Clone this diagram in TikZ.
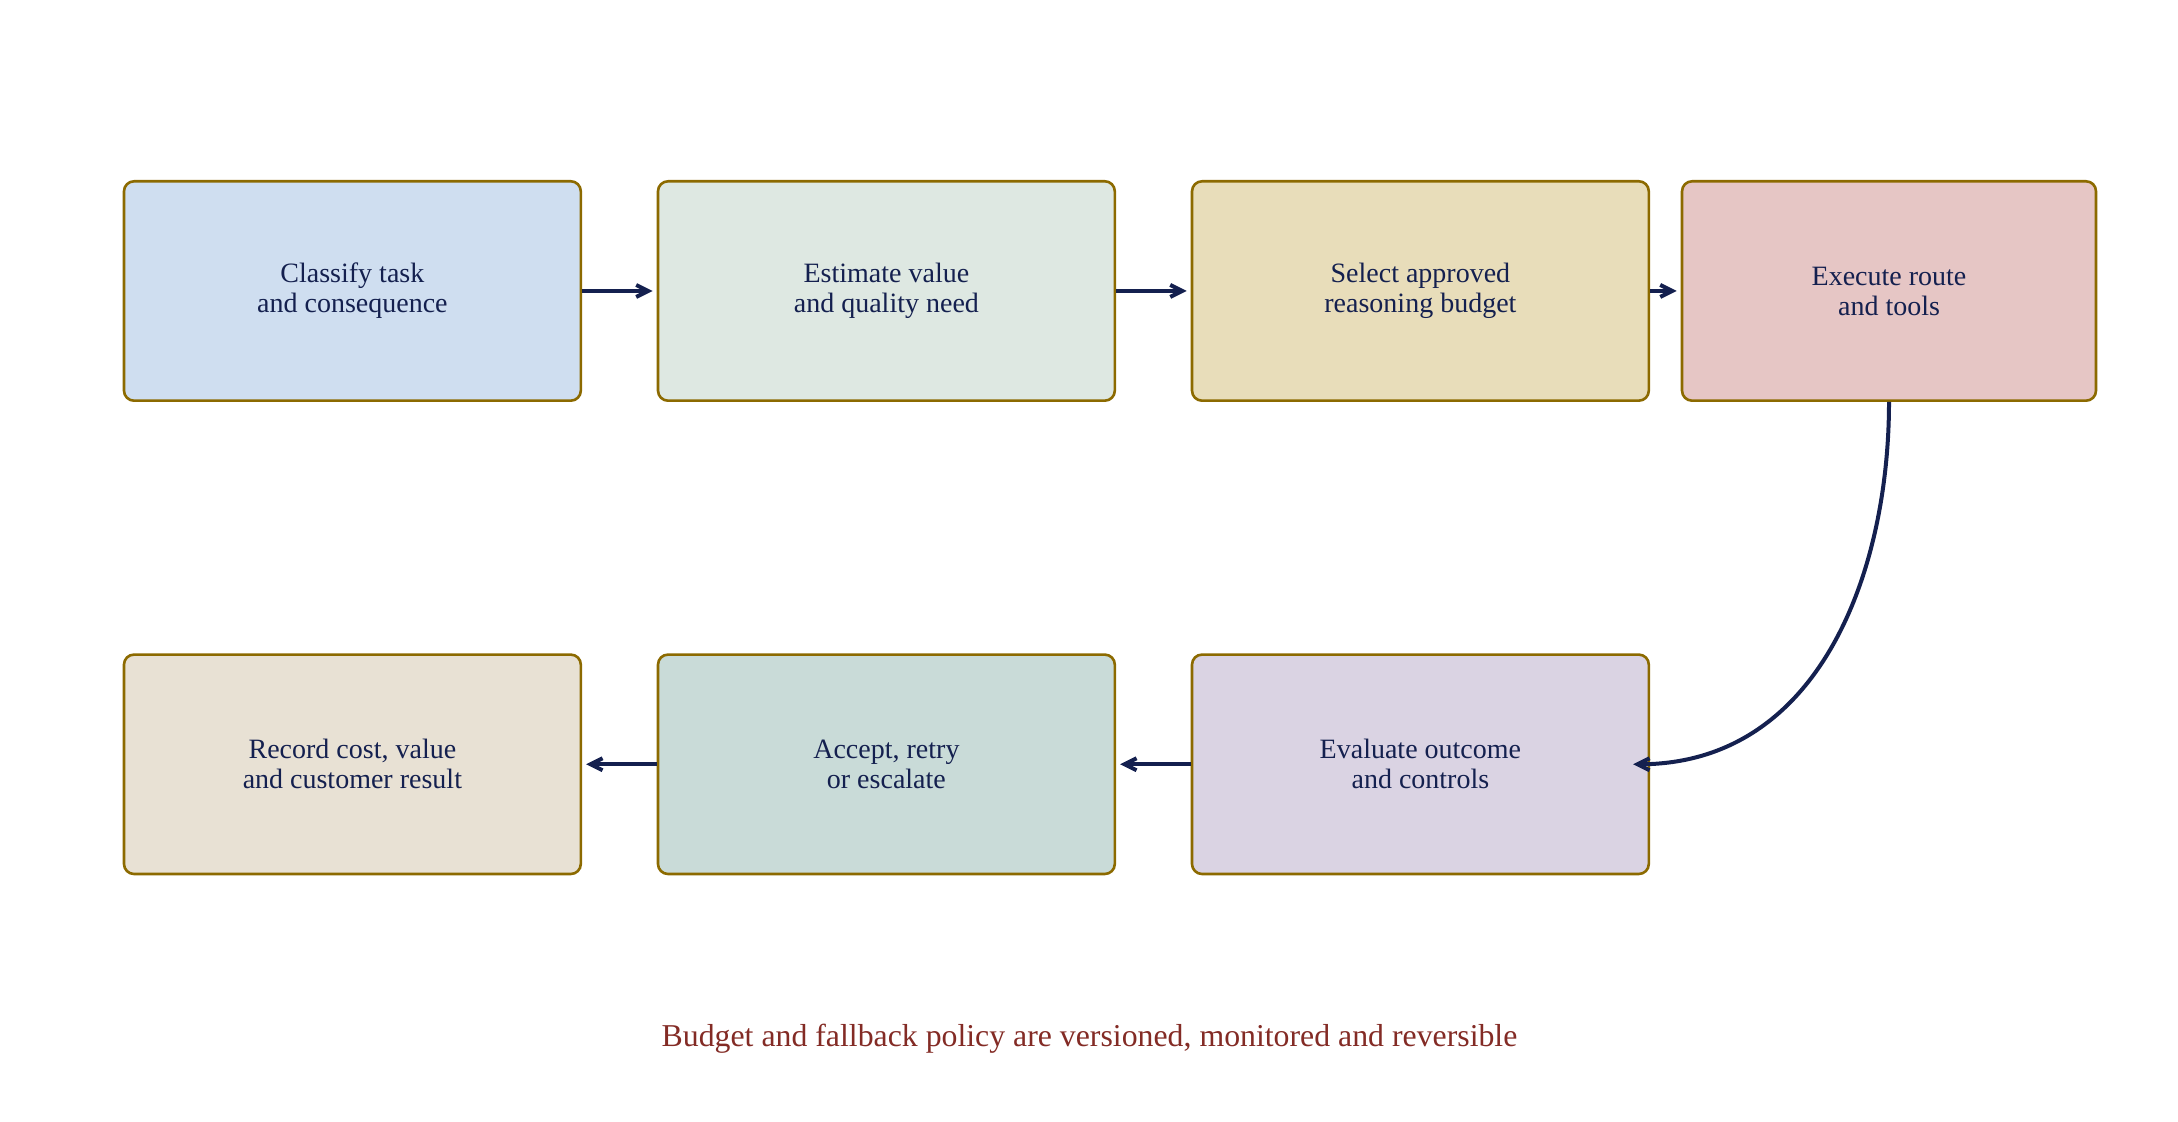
\documentclass[tikz,border=0pt]{standalone}
\usepackage{fontspec}
\setmainfont{Liberation Serif}
\usetikzlibrary{arrows.meta,calc}
\definecolor{ink}{HTML}{14204F}
\definecolor{rim}{HTML}{8C6A00}
\definecolor{notered}{HTML}{832B25}
\definecolor{boxblue}{HTML}{CFDEF0}
\definecolor{boxmint}{HTML}{DEE8E2}
\definecolor{boxsand}{HTML}{E8DDBA}
\definecolor{boxrose}{HTML}{E6C6C5}
\definecolor{boxlilac}{HTML}{DAD3E3}
\definecolor{boxsage}{HTML}{C9DBD8}
\definecolor{boxlinen}{HTML}{E8E1D4}
\tikzstyle{stage}=[draw=rim, line width=1.3pt, rounded corners=5pt,
  minimum width=228.4pt, minimum height=109.7pt, inner sep=0pt, text=ink,
  align=center, font=\fontsize{14}{15}\selectfont]
\tikzstyle{narrow}=[stage, minimum width=207pt]
\tikzstyle{flow}=[-{Straight Barb[length=6pt,width=6pt]}, line width=2pt,
  draw=ink]
\tikzstyle{note}=[text=notered, font=\fontsize{15.9}{19}\selectfont]
% #1 number, #2 style, #3 fill, #4 text
\newcommand{\stage}[4]{node (s#1) [#2, fill=#3]
  {#4}}

\begin{document}
\begin{tikzpicture}[x=0.5pt,y=0.5pt]
  \useasboundingbox (0,0) rectangle (2178,1122);
  \path (352.4,831) \stage{1}{stage}{boxblue}{Classify task\\and consequence};
  \path (s1.center)+(534,0) \stage{2}{stage}{boxmint}{Estimate value\\and quality need};
  \path (s1.center)+(1068,0) \stage{3}{stage}{boxsand}{Select approved\\reasoning budget};
  \path (s1.center)+(1536.6,0) \stage{4}{narrow}{boxrose}{Execute route\\and tools};
  \path (s3.center)+(0,-473.3) \stage{5}{stage}{boxlilac}{Evaluate outcome\\and controls};
  \path (s2.center)+(0,-473.3) \stage{6}{stage}{boxsage}{Accept, retry\\or escalate};
  \path (s1.center)+(0,-473.3) \stage{7}{stage}{boxlinen}{Record cost, value\\and customer result};
  \path (1089.5,83.6) node (n1) [note] {Budget and fallback policy are versioned, monitored and reversible};

  \draw [flow, shorten >=2pt] (s1.east) -- (s2.west);
  \draw [flow, shorten >=2pt] (s2.east) -- (s3.west);
  \draw [flow, shorten >=2pt] (s3.east) -- (s4.west);
  \draw [flow, shorten >=-8.5pt] (s4.south) to[out=-90,in=0] (s5.east);
  \draw [flow, shorten >=2pt] (s5.west) -- (s6.east);
  \draw [flow, shorten >=2pt] (s6.west) -- (s7.east);
\end{tikzpicture}
\end{document}
